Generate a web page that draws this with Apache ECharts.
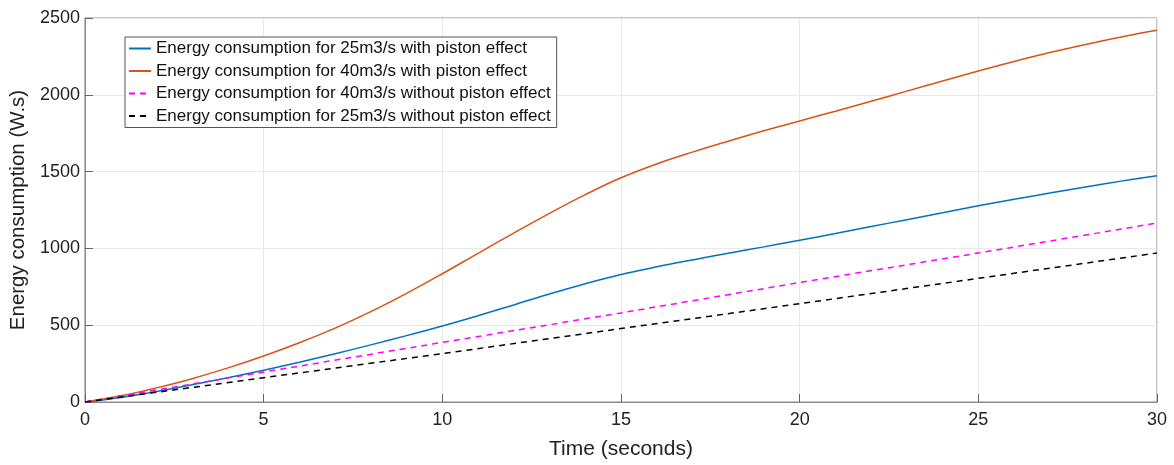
<!DOCTYPE html>
<html><head><meta charset="utf-8">
<script src="https://cdn.jsdelivr.net/npm/echarts@6/dist/echarts.min.js"></script>
<style>html,body{margin:0;padding:0;background:#fff}#c{width:1174px;height:465px}</style>
</head><body><div id="c"></div>
<script>
const time = [0,1,2,3,4,5,6,7,8,9,10,11,12,13,14,15,16,17,18,19,20,21,22,23,24,25,26,27,28,29,30];
const e25Piston = [0,30,68,112,158,207,259,314,372,432,495,562,632,703,770,830,880,925,968,1010,1053,1097,1142,1187,1232,1277,1320,1360,1400,1438,1473];
const e40Piston = [0,40,92,152,222,300,386,481,588,707,835,968,1100,1228,1350,1460,1550,1627,1698,1766,1830,1893,1958,2024,2090,2155,2217,2275,2328,2377,2420];
const tLinear = [0,5,10,15,20,25,30];
const e40NoPiston = [0,195,388,580,778,970,1165];
const e25NoPiston = [0,158,315,478,640,805,970];
const yTicks = ['0','500','1000','1500','2000','2500'];
const names = [
  'Energy consumption for 25m3/s with piston effect',
  'Energy consumption for 40m3/s with piston effect',
  'Energy consumption for 40m3/s without piston effect',
  'Energy consumption for 25m3/s without piston effect'
];
const pair = (xs, ys) => xs.map((x, i) => [x, ys[i]]);
const chart = echarts.init(document.getElementById('c'));
const font = 'Liberation Sans, Arial, sans-serif';
chart.setOption({
  animation: false,
  backgroundColor: '#fff',
  grid: {left: 83, right: 17, top: 18, bottom: 60, show: true, borderColor: '#8a8a8a', borderWidth: 1},
  legend: {
    orient: 'vertical', left: 125, top: 37,
    backgroundColor: '#fff', borderColor: '#555', borderWidth: 1, padding: [3, 6, 3, 3],
    itemWidth: 22, itemHeight: 14, itemGap: 5.5,
    itemStyle: {opacity: 0},
    textStyle: {fontFamily: font, fontSize: 17, color: '#111'},
    data: names
  },
  xAxis: {
    type: 'value', min: 0, max: 30, interval: 5,
    name: 'Time (seconds)', nameLocation: 'middle', nameGap: 37,
    nameTextStyle: {fontFamily: font, fontSize: 21, color: '#222'},
    axisLine: {show: true, lineStyle: {color: '#8a8a8a'}},
    axisTick: {show: true, inside: true, length: 8, lineStyle: {color: '#666'}},
    axisLabel: {fontFamily: font, fontSize: 18, color: '#222', margin: 9},
    splitLine: {show: true, lineStyle: {color: '#e8e8e8'}}
  },
  yAxis: {
    type: 'value', min: 0, max: 2500, interval: 500,
    name: 'Energy consumption (W.s)', nameLocation: 'middle', nameGap: 52,
    nameTextStyle: {fontFamily: font, fontSize: 20.5, color: '#222'},
    axisLine: {show: true, lineStyle: {color: '#8a8a8a'}},
    axisTick: {show: true, inside: true, length: 8, lineStyle: {color: '#666'}},
    axisLabel: {fontFamily: font, fontSize: 18, color: '#222', margin: 5,
      formatter: (v) => yTicks[Math.round(v / 500)]},
    splitLine: {show: true, lineStyle: {color: '#e8e8e8'}}
  },
  series: [
    {name: names[0], type: 'line', smooth: 0.4, symbol: 'none', data: pair(time, e25Piston),
     lineStyle: {color: '#0072BD', width: 1.5}, itemStyle: {color: '#0072BD'}},
    {name: names[1], type: 'line', smooth: 0.4, symbol: 'none', data: pair(time, e40Piston),
     lineStyle: {color: '#D95319', width: 1.5}, itemStyle: {color: '#D95319'}},
    {name: names[2], type: 'line', symbol: 'none', data: pair(tLinear, e40NoPiston),
     lineStyle: {color: '#FF00FF', width: 1.5, type: [6, 5]}, itemStyle: {color: '#FF00FF'}},
    {name: names[3], type: 'line', symbol: 'none', data: pair(tLinear, e25NoPiston),
     lineStyle: {color: '#000', width: 1.5, type: [6, 5]}, itemStyle: {color: '#000'}}
  ]
});
</script></body></html>
